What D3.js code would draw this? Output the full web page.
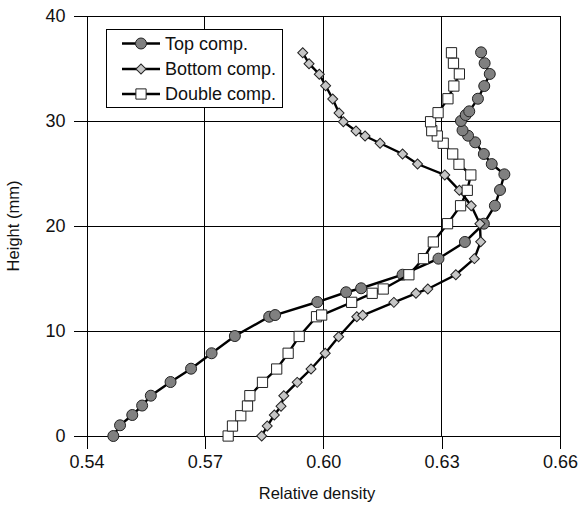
<!DOCTYPE html>
<html>
<head>
<meta charset="utf-8">
<script src="https://cdn.jsdelivr.net/npm/d3@7"></script>
<style>
  body { margin: 0; background: #fff; }
  text { font-family: "Liberation Sans", Arial, sans-serif; fill: #111; }
</style>
</head>
<body>
<div id="chart"></div>
<script>
// Chart data
const seriesNames = ["Top comp.", "Bottom comp.", "Double comp."];

const topDensity = [0.5468, 0.5485, 0.5516, 0.5541, 0.5563, 0.5613, 0.5665, 0.5717, 0.5776, 0.5863, 0.5878,
  0.5985, 0.6058, 0.6096, 0.6201, 0.6292, 0.6359, 0.6407, 0.6435, 0.6448, 0.6459, 0.6427, 0.6407, 0.6385,
  0.6367, 0.6353, 0.6349, 0.6361, 0.6370, 0.6392, 0.6408, 0.6422, 0.6409, 0.6400];
const topHeight = [0, 1.02, 2.0, 2.9, 3.84, 5.14, 6.41, 7.88, 9.52, 11.36, 11.52,
  12.76, 13.69, 14.07, 15.36, 16.89, 18.48, 20.22, 21.93, 23.43, 24.92, 25.9, 26.86, 27.97,
  28.6, 29.11, 30.0, 30.57, 30.92, 32.12, 33.33, 34.48, 35.5, 36.54];

const bottomDensity = [0.5844, 0.5858, 0.5876, 0.5893, 0.5900, 0.5934, 0.5969, 0.6005, 0.6039, 0.6085, 0.6100,
  0.6179, 0.6235, 0.6265, 0.6336, 0.6383, 0.6399, 0.6397, 0.6375, 0.6345, 0.6308, 0.6239, 0.6201,
  0.6144, 0.6106, 0.6083, 0.6051, 0.6040, 0.6024, 0.6006, 0.5990, 0.5964, 0.5948];
const bottomHeight = [0, 0.95, 2.0, 2.83, 3.84, 5.11, 6.38, 7.88, 9.46, 11.36, 11.5,
  12.73, 13.59, 14.0, 15.36, 16.89, 18.5, 20.22, 21.93, 23.4, 24.86, 25.9, 26.86,
  27.88, 28.57, 29.05, 29.93, 30.76, 32.1, 33.36, 34.45, 35.46, 36.5];

const doubleDensity = [0.5759, 0.5770, 0.5791, 0.5808, 0.5814, 0.5846, 0.5882, 0.5911, 0.5939, 0.5983, 0.5996,
  0.6072, 0.6124, 0.6152, 0.6217, 0.6254, 0.6279, 0.6315, 0.6348, 0.6365, 0.6374, 0.6344, 0.6328,
  0.6304, 0.6289, 0.6275, 0.6272, 0.6291, 0.6316, 0.6331, 0.6345, 0.6330, 0.6325];
const doubleHeight = [0, 0.95, 1.93, 2.86, 3.84, 5.11, 6.38, 7.88, 9.48, 11.36, 11.52,
  12.73, 13.59, 14.0, 15.36, 16.89, 18.48, 20.22, 21.93, 23.4, 24.86, 25.88, 26.86,
  27.88, 28.57, 29.08, 29.93, 30.79, 32.12, 33.33, 34.48, 35.5, 36.5];

const xTicks = [0.54, 0.57, 0.60, 0.63, 0.66];
const yTicks = [0, 10, 20, 30, 40];

// Layout settings
const config = {
  width: 579,
  height: 509,
  plot: { left: 86.5, right: 560, top: 16, bottom: 436 },
  tickLen: 13,
  fontSize: 18,
  titleSize: 16.5,
};

const { width, height, plot, tickLen } = config;

const svg = d3.select("#chart")
  .append("svg")
  .attr("width", width)
  .attr("height", height);

// Scales
const xScale = d3.scaleLinear().domain([0.54, 0.66]).range([plot.left, plot.right]);
const yScale = d3.scaleLinear().domain([0, 40]).range([plot.bottom, plot.top]);

// Grid lines (inner ones plus top/right frame)
svg.append("g").selectAll("line")
  .data(xTicks.slice(1))
  .join("line")
  .attr("x1", d => xScale(d)).attr("x2", d => xScale(d))
  .attr("y1", plot.top).attr("y2", plot.bottom)
  .attr("stroke", "#000").attr("stroke-width", 1).attr("shape-rendering", "crispEdges");

svg.append("g").selectAll("line")
  .data(yTicks.slice(1))
  .join("line")
  .attr("x1", plot.left).attr("x2", plot.right)
  .attr("y1", d => yScale(d)).attr("y2", d => yScale(d))
  .attr("stroke", "#000").attr("stroke-width", 1).attr("shape-rendering", "crispEdges");

// Axes
const xAxis = d3.axisBottom(xScale)
  .tickValues(xTicks)
  .tickFormat(d3.format(".2f"))
  .tickSizeInner(tickLen)
  .tickSizeOuter(0)
  .tickPadding(6);

const yAxis = d3.axisLeft(yScale)
  .tickValues(yTicks)
  .tickSizeInner(tickLen)
  .tickSizeOuter(0)
  .tickPadding(8);

const gx = svg.append("g")
  .attr("transform", `translate(0,${plot.bottom})`)
  .call(xAxis);

const gy = svg.append("g")
  .attr("transform", `translate(${plot.left},0)`)
  .call(yAxis);

[gx, gy].forEach(g => {
  g.selectAll("path, line").attr("stroke", "#000").attr("stroke-width", 1).attr("shape-rendering", "crispEdges");
  g.selectAll("text")
    .style("font-family", "'Liberation Sans', Arial, sans-serif")
    .style("font-size", config.fontSize + "px")
    .attr("fill", "#111");
});

// Axis titles
svg.append("text")
  .attr("x", 317)
  .attr("y", 499)
  .attr("text-anchor", "middle")
  .style("font-size", config.titleSize + "px")
  .text("Relative density");

svg.append("text")
  .attr("transform", `translate(19,${(plot.top + plot.bottom) / 2}) rotate(-90)`)
  .attr("text-anchor", "middle")
  .style("font-size", config.titleSize + "px")
  .text("Height (mm)");

// Marker shapes for each series (diamond = square turned 45 degrees)
const markers = [
  { type: d3.symbolCircle, size: 95, fill: "#808080", rotate: 0 },
  { type: d3.symbolSquare, size: 50, fill: "#c6c6c6", rotate: 45 },
  { type: d3.symbolSquare, size: 105, fill: "#ffffff", rotate: 0 },
];

const seriesData = [
  d3.zip(topDensity, topHeight),
  d3.zip(bottomDensity, bottomHeight),
  d3.zip(doubleDensity, doubleHeight),
];

const line = d3.line()
  .x(d => xScale(d[0]))
  .y(d => yScale(d[1]));

seriesData.forEach((data, i) => {
  const m = markers[i];
  svg.append("path")
    .datum(data)
    .attr("d", line)
    .attr("fill", "none")
    .attr("stroke", "#000")
    .attr("stroke-width", 2.4);

  svg.append("g").selectAll("path")
    .data(data)
    .join("path")
    .attr("transform", d => `translate(${xScale(d[0])},${yScale(d[1])}) rotate(${m.rotate})`)
    .attr("d", d3.symbol().type(m.type).size(m.size))
    .attr("fill", m.fill)
    .attr("stroke", "#222")
    .attr("stroke-width", 1);
});

// Legend
const legend = svg.append("g");
legend.append("rect")
  .attr("x", 106.5).attr("y", 29.5)
  .attr("width", 176).attr("height", 78)
  .attr("fill", "#fff").attr("stroke", "#000").attr("stroke-width", 1);

const rowY = [43.5, 69, 94];
seriesNames.forEach((name, i) => {
  const m = markers[i];
  const y = rowY[i];
  legend.append("line")
    .attr("x1", 122).attr("x2", 160)
    .attr("y1", y).attr("y2", y)
    .attr("stroke", "#000").attr("stroke-width", 2.4);
  legend.append("path")
    .attr("transform", `translate(141,${y}) rotate(${m.rotate})`)
    .attr("d", d3.symbol().type(m.type).size(m.size))
    .attr("fill", m.fill)
    .attr("stroke", "#222")
    .attr("stroke-width", 1);
  legend.append("text")
    .attr("x", 165)
    .attr("y", y)
    .attr("dy", "0.35em")
    .style("font-size", config.fontSize + "px")
    .text(name);
});
</script>
</body>
</html>
